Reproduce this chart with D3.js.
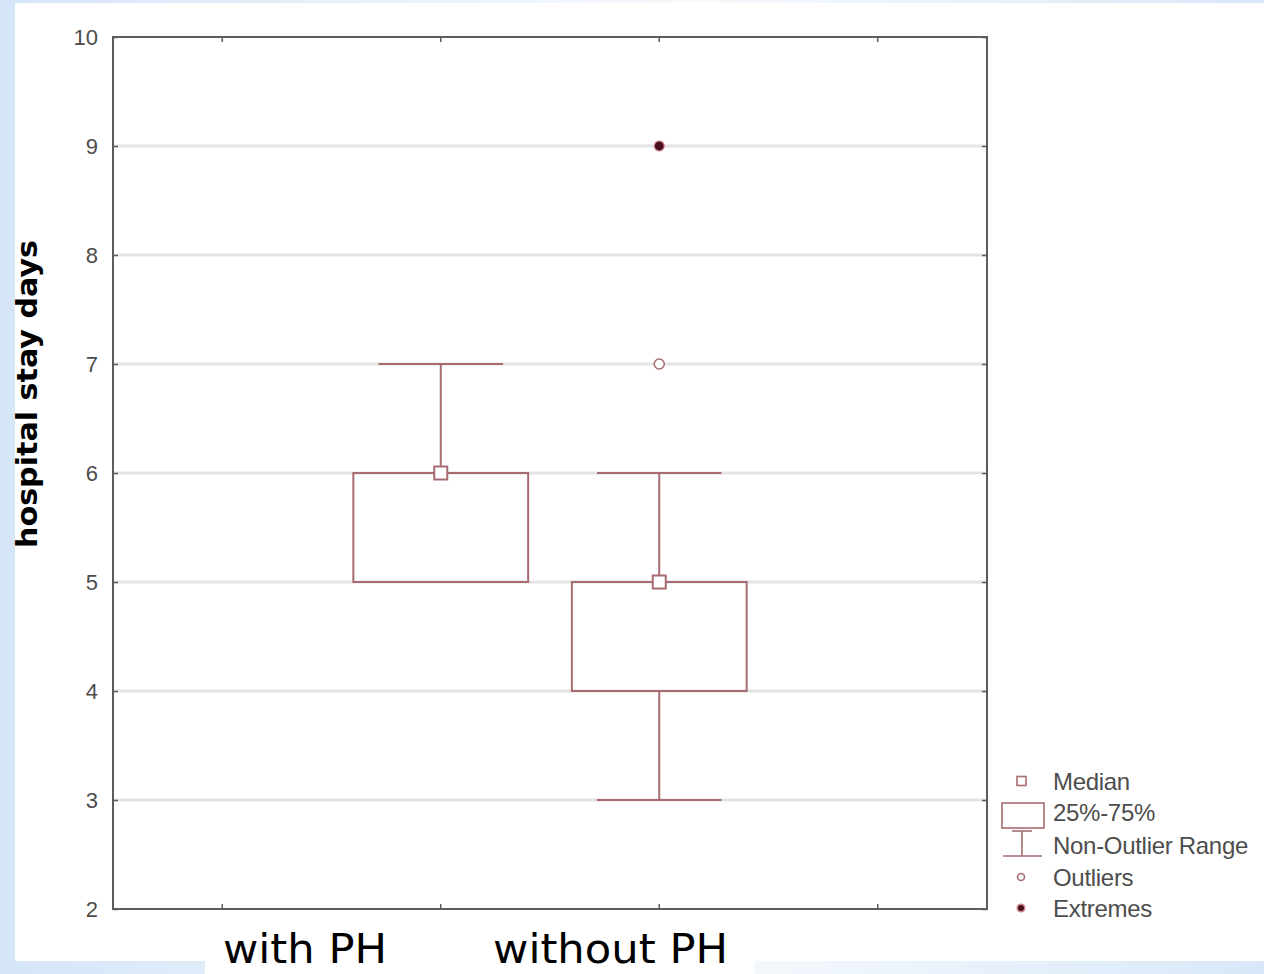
<!DOCTYPE html>
<html>
<head>
<meta charset="utf-8">
<script src="https://cdn.jsdelivr.net/npm/d3@7"></script>
<style>
  html, body { margin: 0; padding: 0; }
  body {
    width: 1264px; height: 974px; overflow: hidden;
    background: linear-gradient(to right, #d5e6f8 0%, #e8f1fb 30%, #f7fafd 55%, #e6f0fb 80%, #d8e8f8 100%);
  }
  svg { display: block; }
</style>
</head>
<body>
<div id="chart"></div>
<script>
const groups = ["with PH", "without PH"];
const groupSlot = [1, 2];
const q1 = [5, 4];
const q3 = [6, 5];
const medians = [6, 5];
const whiskerLow = [5, 3];
const whiskerHigh = [7, 6];
const outliers = [[], [7]];
const extremes = [[], [9]];
const yTicks = [2, 3, 4, 5, 6, 7, 8, 9, 10];
const xSlots = [0, 1, 2, 3];
const legendLabels = ["Median", "25%-75%", "Non-Outlier Range", "Outliers", "Extremes"];

const W = 1264, H = 974;
const boxColor = "#a86c70";
const axisColor = "#5c5c5c";
const textGrey = "#4d4d4d";

const svg = d3.select("#chart").append("svg").attr("width", W).attr("height", H);

// white slide panels
svg.append("rect").attr("x", 15).attr("y", 3).attr("width", W - 15).attr("height", 958).attr("fill", "#ffffff");
svg.append("rect").attr("x", 205).attr("y", 912).attr("width", 549).attr("height", 62).attr("fill", "#ffffff");

const x = d3.scaleBand().domain(xSlots).range([113, 987]).paddingInner(0).paddingOuter(0);
const y = d3.scaleLinear().domain([2, 10]).range([909, 37]);
const bw = x.bandwidth();

const plot = svg.append("g");

// grid
plot.selectAll("line.grid")
  .data(yTicks.filter((d) => d > 2 && d < 10))
  .join("line")
  .attr("class", "grid")
  .attr("x1", 113).attr("x2", 987)
  .attr("y1", (d) => y(d)).attr("y2", (d) => y(d))
  .attr("stroke", "#e4e4e4")
  .attr("stroke-width", 3);

// axes (ticks inward on all four sides)
const axLeft = plot.append("g").attr("transform", "translate(113,0)")
  .call(d3.axisLeft(y).tickValues(yTicks).tickSize(-5).tickPadding(15).tickFormat(d3.format("d")));
const axRight = plot.append("g").attr("transform", "translate(987,0)")
  .call(d3.axisRight(y).tickValues(yTicks).tickSize(-5).tickFormat(""));
const axTop = plot.append("g").attr("transform", "translate(0,37)")
  .call(d3.axisTop(x).tickSize(-5).tickFormat(""));
const axBottom = plot.append("g").attr("transform", "translate(0,909)")
  .call(d3.axisBottom(x).tickSize(-5).tickFormat(""));
[axLeft, axRight, axTop, axBottom].forEach((g) => {
  g.select(".domain").remove();
  g.selectAll(".tick line").attr("stroke", axisColor).attr("stroke-width", 1.5);
});
axLeft.selectAll(".tick text")
  .attr("font-family", "Liberation Sans, Arial, sans-serif")
  .attr("font-size", 22)
  .attr("fill", textGrey);

plot.append("rect")
  .attr("x", 113).attr("y", 37).attr("width", 874).attr("height", 872)
  .attr("fill", "none").attr("stroke", axisColor).attr("stroke-width", 2);

// boxes
const boxData = groups.map((g, i) => ({
  name: g, slot: groupSlot[i], q1: q1[i], q3: q3[i], med: medians[i],
  lo: whiskerLow[i], hi: whiskerHigh[i], out: outliers[i], ext: extremes[i],
}));
const cx = (d) => x(d.slot) + bw / 2;
const capW = bw * 0.57;

const box = plot.selectAll("g.box").data(boxData).join("g").attr("class", "box")
  .attr("fill", "none").attr("stroke", boxColor).attr("stroke-width", 2);

box.filter((d) => d.hi > d.q3).append("line")
  .attr("x1", cx).attr("x2", cx).attr("y1", (d) => y(d.q3)).attr("y2", (d) => y(d.hi));
box.filter((d) => d.hi > d.q3).append("line")
  .attr("x1", (d) => cx(d) - capW / 2).attr("x2", (d) => cx(d) + capW / 2)
  .attr("y1", (d) => y(d.hi)).attr("y2", (d) => y(d.hi));
box.filter((d) => d.lo < d.q1).append("line")
  .attr("x1", cx).attr("x2", cx).attr("y1", (d) => y(d.q1)).attr("y2", (d) => y(d.lo));
box.filter((d) => d.lo < d.q1).append("line")
  .attr("x1", (d) => cx(d) - capW / 2).attr("x2", (d) => cx(d) + capW / 2)
  .attr("y1", (d) => y(d.lo)).attr("y2", (d) => y(d.lo));

box.append("rect")
  .attr("x", (d) => cx(d) - bw * 0.4).attr("width", bw * 0.8)
  .attr("y", (d) => y(d.q3)).attr("height", (d) => y(d.q1) - y(d.q3));

box.append("rect")
  .attr("x", (d) => cx(d) - 6.5).attr("y", (d) => y(d.med) - 6.5)
  .attr("width", 13).attr("height", 13).attr("fill", "#ffffff");

box.selectAll("circle.out").data((d) => d.out.map((v) => ({ v, c: cx(d) }))).join("circle")
  .attr("class", "out").attr("cx", (d) => d.c).attr("cy", (d) => y(d.v)).attr("r", 5)
  .attr("fill", "#ffffff").attr("stroke-width", 1.5);

box.selectAll("circle.ext").data((d) => d.ext.map((v) => ({ v, c: cx(d) }))).join("circle")
  .attr("class", "ext").attr("cx", (d) => d.c).attr("cy", (d) => y(d.v)).attr("r", 5)
  .attr("fill", "#4a1020").attr("stroke", "#d08890").attr("stroke-width", 1.2);

// legend
const lg = svg.append("g").attr("stroke", boxColor).attr("fill", "none").attr("stroke-width", 1.6);
const legY = [781, 812, 845, 877, 908];
lg.append("rect").attr("x", 1017).attr("y", legY[0] - 4.5).attr("width", 9).attr("height", 9).attr("fill", "#fff");
lg.append("rect").attr("x", 1002).attr("y", 803).attr("width", 42).attr("height", 25).attr("fill", "#fff");
lg.append("line").attr("x1", 1012).attr("x2", 1032).attr("y1", 831).attr("y2", 831);
lg.append("line").attr("x1", 1022).attr("x2", 1022).attr("y1", 831).attr("y2", 856);
lg.append("line").attr("x1", 1003).attr("x2", 1042).attr("y1", 856).attr("y2", 856);
lg.append("circle").attr("cx", 1021).attr("cy", legY[3]).attr("r", 3.5).attr("fill", "#fff");
lg.append("circle").attr("cx", 1021).attr("cy", legY[4]).attr("r", 3.8).attr("fill", "#4a1020").attr("stroke", "#d08890");

svg.append("g").selectAll("text").data(legendLabels).join("text")
  .attr("x", 1053).attr("y", (d, i) => legY[i])
  .attr("dy", "0.36em")
  .attr("font-family", "Liberation Sans, Arial, sans-serif")
  .attr("font-size", 24)
  .attr("letter-spacing", -0.3)
  .attr("fill", textGrey)
  .text((d) => d);

// axis title
svg.append("text")
  .attr("transform", "translate(37,394) rotate(-90)")
  .attr("text-anchor", "middle")
  .attr("font-family", "DejaVu Sans, Verdana, sans-serif")
  .attr("font-weight", "bold")
  .attr("font-size", 29)
  .attr("textLength", 308)
  .attr("lengthAdjust", "spacingAndGlyphs")
  .attr("fill", "#000")
  .text("hospital stay days");

// category labels
const catX = [223, 493];
const catLen = [164, 235];
svg.append("g").selectAll("text").data(groups).join("text")
  .attr("x", (d, i) => catX[i]).attr("y", 963)
  .attr("font-family", "DejaVu Sans, Verdana, sans-serif")
  .attr("font-size", 41)
  .attr("textLength", (d, i) => catLen[i])
  .attr("lengthAdjust", "spacingAndGlyphs")
  .attr("fill", "#000")
  .text((d) => d);
</script>
</body>
</html>
